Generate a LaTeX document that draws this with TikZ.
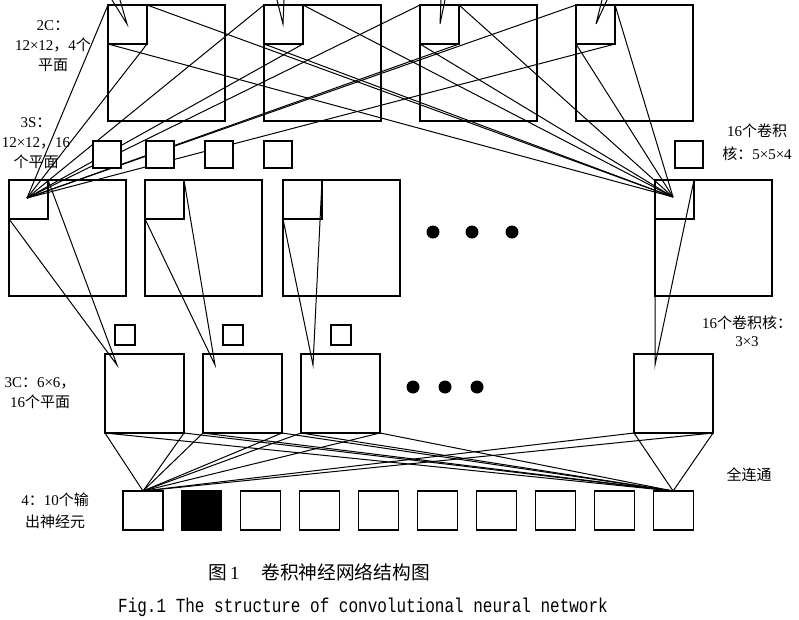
\documentclass[tikz,border=0pt]{standalone}
\usepackage{fontspec}
\setmainfont{Liberation Serif}
\setmonofont{Liberation Mono}
\newfontfamily\cjk{Noto Sans CJK SC}
\newcommand\zh[1]{{\cjk #1}}

\begin{document}
\begin{tikzpicture}[x=1pt,y=-1pt,
    map/.style={draw,line width=1.1pt,inner sep=0pt,outer sep=0pt,anchor=north west,
      minimum width=117,minimum height=116},
    patch/.style={map,minimum width=39,minimum height=39},
    kern/.style={map,fill=white,minimum width=28,minimum height=27},
    kernsm/.style={map,fill=white,minimum width=20,minimum height=20},
    fmap/.style={map,minimum width=79,minimum height=79},
    outbox/.style={map,minimum width=40,minimum height=39},
    wire/.style={line width=1pt},
    lab/.style={font=\fontsize{15}{20}\selectfont,inner sep=0pt,align=center}]
    \useasboundingbox[fill=white] (0,0) rectangle (799,619);

    % 2C: 4 maps with their patches
    \foreach \n/\x in {a/108,b/264,c/420,d/576}{
        \node[map] (c2\n) at (\x,5) {};
        \node[patch] (p2\n) at (\x,5) {};
    }
    % lines from the layer above
    \foreach \n/\ax/\ta/\tb in {a/127/112/120,b/283/277/284,c/440/441/445,d/596/602/607}{
        \coordinate (t\n) at (\ax,24);
        \coordinate (t\n1) at (\ta,0);
        \coordinate (t\n2) at (\tb,0);
        \draw[wire] (t\n1) -- (t\n) -- (t\n2);
    }

    % 3S: 16 maps
    \foreach \n/\x in {a/9,b/145,c/283,d/655}{
        \node[map] (s3\n) at (\x,180) {};
        \node[patch] (q3\n) at (\x,180) {};
    }
    \coordinate (fl) at (27,198);
    \coordinate (fr) at (673,197);
    \foreach \n in {a,b,c,d}{
        \draw[wire] (fl) -- (p2\n.north west);
        \draw[wire] (fl) -- (p2\n.south east);
        \draw[wire] (fr) -- (p2\n.north east);
        \draw[wire] (fr) -- (p2\n.south west);
    }
    % 5x5x4 kernels
    \foreach \n/\x in {a/93,b/146,c/205,d/264,e/675}
        \node[kern] (k5\n) at (\x,141) {};

    % 3C: 6x6 maps
    \foreach \n/\x/\ax in {a/105/117,b/203/215,c/301/313,d/634/655}{
        \node[fmap] (c3\n) at (\x,354) {};
        \coordinate (r\n) at (\ax,365);
        \draw[wire] (q3\n.north east) -- (r\n) -- (q3\n.south west);
    }
    % 3x3 kernels
    \foreach \n/\x in {a/115,b/223,c/331}
        \node[kernsm] (k3\n) at (\x,325) {};

    % output neurons
    \foreach \i/\c in {1/white,2/black,3/white,4/white,5/white,6/white,7/white,8/white,9/white,10/white}
        \node[outbox,fill=\c] (o\i) at ({123+58.9*(\i-1)},491) {};
    % full connection
    \foreach \n in {a,b,c,d}
        \foreach \a in {south west,south east}
            \draw[wire] (c3\n.\a) -- (o1.north) (c3\n.\a) -- (o10.north);

    % dots
    \foreach \x in {433,472,512} \fill (\x,232) circle (6.5pt);
    \foreach \x in {413,445,477} \fill (\x,387) circle (6.5pt);

    % labels
    \node[lab] (l2c) at (53,46) {2C\zh{：}\\12×12\zh{，}4\zh{个}\\\zh{平面}};
    \node[lab] (l3s) at (36,143) {3S\zh{：}\\12×12\zh{，}16\\\zh{个平面}};
    \node[lab] (lk5) at (757,142) {16\zh{个卷积}\\[3pt]\zh{核：}5×5×4};
    \node[lab] (lk3) at (747,331) {16\zh{个卷积核：}\\[-2pt]3×3};
    \node[lab] (l3c) at (40,393) {3C\zh{：}6×6\zh{，}\\16\zh{个平面}};
    \node[lab] (lout) at (55,511) {4\zh{：}10\zh{个输}\\[2pt]\zh{出神经元}};
    \node[lab] (lfc) at (749,475) {\zh{全连通}};

    % caption
    \node[inner sep=0pt,font=\fontsize{18.7}{20}\selectfont] (cap) at (319,572)
        {\zh{图}\,1\hspace{22pt}\zh{卷积神经网络结构图}};
    \node[inner sep=0pt,font=\fontsize{16}{18}\ttfamily] (capen) at (363,607)
        {\scalebox{1}[1.25]{Fig.1 The structure of convolutional neural network}};
\end{tikzpicture}
\end{document}
